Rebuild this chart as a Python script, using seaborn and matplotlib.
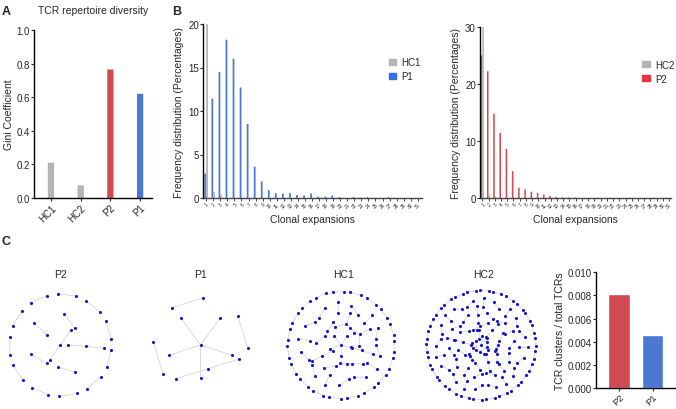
import numpy as np
import pandas as pd
import seaborn as sns
import matplotlib.pyplot as plt
from matplotlib.collections import LineCollection
from matplotlib.patches import Patch

sns.set_style('ticks')
plt.rcParams['font.family'] = ['Liberation Sans', 'DejaVu Sans']

RED = '#E8323F'
BLUE = '#3570E8'
GRAY = '#B4B4B4'
NODE = '#1414C8'

# panel A: Gini coefficient
gini_samples = ['HC1', 'HC2', 'P2', 'P1']
gini_values = [0.21, 0.075, 0.765, 0.62]

# panel B: clonal expansion frequency (%)
clone_labels = [str(i) for i in range(1, 32)]
p1_freq = [2.8, 11.4, 14.5, 18.2, 16.0, 12.7, 8.5, 3.6, 1.9, 0.9, 0.55, 0.5, 0.55,
           0.35, 0.3, 0.5, 0.15, 0.15, 0.3, 0.1, 0.0, 0.1, 0.05, 0.1, 0.0, 0.0,
           0.1, 0.0, 0.0, 0.0, 0.0]
hc1_freq = [20.1, 0.7, 0.4] + [0.0] * 28
p2_freq = [25.0, 22.2, 14.8, 11.4, 8.6, 4.7, 1.8, 1.5, 1.1, 0.9, 0.6, 0.35, 0.2,
           0.1, 0.1, 0.05] + [0.0] * 15
hc2_freq = [30.0, 0.6, 0.3] + [0.0] * 28

# panel C: cluster sizes per sample network, and cluster ratio
net_samples = ['P2', 'P1', 'HC1', 'HC2']
net_clusters = {
    'P2': [3, 3] + [2] * 15,
    'P1': [6, 3, 2, 2, 2],
    'HC1': [6, 4, 4, 3, 3, 3, 3] + [2] * 35,
    'HC2': [4, 4, 4, 4] + [3] * 10 + [2] * 60,
}
ratio_samples = ['P2', 'P1']
ratio_values = [0.0081, 0.0046]

fig = plt.figure(figsize=(6.76, 4.10), dpi=100)


def px_axes(l, t, r, b):
    return fig.add_axes([l / 676, 1 - b / 410, (r - l) / 676, (b - t) / 410])


def style(ax, fs=7):
    sns.despine(ax=ax)
    for s in ['left', 'bottom']:
        ax.spines[s].set_linewidth(1.0)
        ax.spines[s].set_color('black')
    ax.tick_params(labelsize=fs, width=0.8, length=2, pad=1)


def unsnap(ax):
    for p in ax.patches:
        p.set_snap(False)
        p.set_linewidth(0)


# ---- A
axA = px_axes(34.3, 31, 152, 199)
dfA = pd.DataFrame({'sample': gini_samples, 'gini': gini_values})
sns.barplot(data=dfA, x='sample', y='gini', hue='sample',
            palette=[GRAY, GRAY, RED, BLUE], width=0.21, legend=False, ax=axA)
axA.set_xlim(-0.56, 3.4)
axA.set_ylim(0, 1.0)
axA.set_yticks(np.arange(0, 1.01, 0.2))
axA.set_yticklabels([f'{v:.1f}' for v in np.arange(0, 1.01, 0.2)])
axA.set_xlabel('')
axA.set_ylabel('Gini Coefficient', fontsize=7.5, labelpad=2)
axA.set_title('TCR repertoire diversity', fontsize=7.5, pad=12)
style(axA)
unsnap(axA)
plt.setp(axA.get_xticklabels(), rotation=45, ha='right', rotation_mode='anchor')


# ---- B
def clone_panel(box, pat, hc, pname, hname, pcol, ymax, yt, xlim):
    ax = px_axes(*box)
    df = pd.DataFrame({
        'clone': clone_labels * 2,
        'pct': pat + hc,
        'sample': [pname] * len(pat) + [hname] * len(hc),
    })
    sns.barplot(data=df, x='clone', y='pct', hue='sample', order=clone_labels,
                hue_order=[pname, hname], palette={pname: pcol, hname: GRAY},
                width=0.5, ax=ax)
    ax.get_legend().remove()
    unsnap(ax)
    ax.set_xlim(*xlim)
    ax.set_ylim(0, ymax)
    ax.set_yticks(yt)
    ax.set_xlabel('Clonal expansions', fontsize=7.5, labelpad=4)
    ax.set_ylabel('Frequency distribution (Percentages)', fontsize=7.5, labelpad=3)
    style(ax)
    ax.tick_params(axis='x', labelsize=3.4, length=2, width=0.6, pad=0.5)
    plt.setp(ax.get_xticklabels(), rotation=45, ha='right', rotation_mode='anchor')
    ax.spines['bottom'].set_color('#444444')
    handles = [Patch(color=GRAY), Patch(color=pcol)]
    ax.legend(handles, [hname, pname], loc='upper left', bbox_to_anchor=(0.83, 0.83),
              frameon=False, fontsize=7, handlelength=0.8, handleheight=0.5,
              handletextpad=0.5, labelspacing=0.4, borderaxespad=0)
    return ax


clone_panel((203.3, 25, 422, 199), p1_freq, hc1_freq, 'P1', 'HC1', BLUE,
            20, [0, 5, 10, 15, 20], (-0.41, 30.6))
clone_panel((480, 27.7, 671, 199), p2_freq, hc2_freq, 'P2', 'HC2', RED,
            30, [0, 10, 20, 30], (-0.37, 30.3))


# ---- C networks: clusters packed on concentric rings, pairs outside
def layout(sizes, R):
    n = len(sizes)
    s = R * np.sqrt(np.pi / n)
    d = 0.72 * s
    radii = []
    r = R - 0.3 * s
    while r > 0.45 * s:
        radii.append(r)
        r -= s
    radii.append(0.0)
    caps = np.array([2 * np.pi * rr / s for rr in radii[:-1]] + [1.0])
    raw = caps * n / caps.sum()
    counts = np.floor(raw).astype(int)
    for i in np.argsort(-(raw - counts))[:n - counts.sum()]:
        counts[i] += 1
    order = list(reversed(sizes))
    pts, edges = [], []
    idx = 0
    for k, (rr, cnt) in enumerate(zip(radii, counts)):
        if cnt == 0:
            continue
        if rr == 0.0 and cnt > 1:
            rr = 0.35 * s
        off = k * 0.9 + 0.3
        for j in range(cnt):
            size = order[idx]
            idx += 1
            ang = off + 2 * np.pi * j / cnt
            rad = rr
            if size > 2:
                rad = min(rad, R - d)
            cx, cy = rad * np.cos(ang), rad * np.sin(ang)
            phi = ang + np.pi / 2 if k == 0 else ang + j * 2.1 + k
            base = len(pts)
            if size == 2:
                pts.append((cx + 0.5 * d * np.cos(phi), cy + 0.5 * d * np.sin(phi)))
                pts.append((cx - 0.5 * d * np.cos(phi), cy - 0.5 * d * np.sin(phi)))
                edges.append((base, base + 1))
            else:
                pts.append((cx, cy))
                for m in range(size - 1):
                    a = phi + 2 * np.pi * m / (size - 1)
                    pts.append((cx + d * np.cos(a), cy + d * np.sin(a)))
                    edges.append((base, base + 1 + m))
    return np.array(pts), edges


centers = {'P2': 60.3, 'P1': 200.5, 'HC1': 341, 'HC2': 481}
for name in net_samples:
    cx = centers[name]
    ax = px_axes(cx - 66, 346 - 66, cx + 66, 346 + 66)
    pts, edges = layout(net_clusters[name], 58)
    segs = [[pts[a], pts[b]] for a, b in edges]
    ax.add_collection(LineCollection(segs, colors='#d4d4d4', linewidths=0.6, zorder=1))
    sns.scatterplot(x=pts[:, 0], y=pts[:, 1], color=NODE, s=5, linewidth=0,
                    ax=ax, zorder=2)
    ax.set_xlim(-66, 66)
    ax.set_ylim(-66, 66)
    ax.set_axis_off()
    fig.text((cx + (3 if name.startswith('HC') else 0)) / 676, 1 - 275 / 410, name,
             fontsize=7.5, ha='center', va='center')

# ---- C bar
axC = px_axes(596, 273.3, 675, 389)
dfC = pd.DataFrame({'sample': ratio_samples, 'ratio': ratio_values})
sns.barplot(data=dfC, x='sample', y='ratio', hue='sample', palette=[RED, BLUE],
            width=0.65, legend=False, ax=axC)
axC.set_xlim(-0.69, 1.67)
axC.set_ylim(0, 0.010)
axC.set_yticks(np.arange(0, 0.0101, 0.002))
axC.set_yticklabels([f'{v:.3f}' for v in np.arange(0, 0.0101, 0.002)])
axC.set_xlabel('')
axC.set_ylabel('TCR clusters / total TCRs', fontsize=7.5, labelpad=2)
style(axC)
axC.tick_params(axis='x', labelsize=6.8)
plt.setp(axC.get_xticklabels(), rotation=45, ha='right', rotation_mode='anchor')

# panel letters
fig.text(2 / 676, 1 - 12 / 410, 'A', fontsize=9, fontweight='bold', va='center')
fig.text(172 / 676, 1 - 12 / 410, 'B', fontsize=9, fontweight='bold', va='center')
fig.text(2 / 676, 1 - 242 / 410, 'C', fontsize=9, fontweight='bold', va='center')

fig.savefig('out.png', dpi=100)
